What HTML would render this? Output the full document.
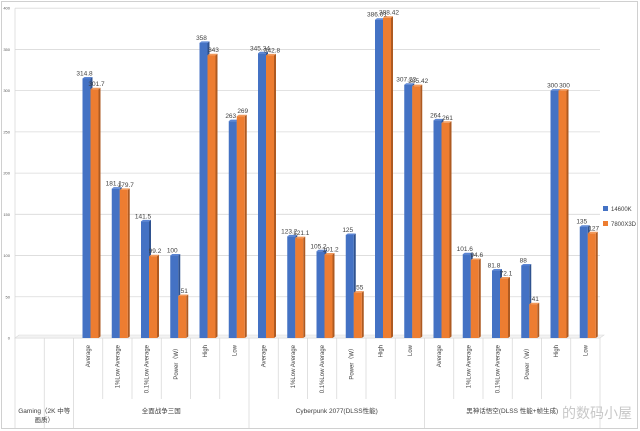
<!DOCTYPE html>
<html><head><meta charset="utf-8">
<style>
html,body{margin:0;padding:0;background:#fff;}
svg{display:block;font-family:"Liberation Sans","Noto Sans CJK SC",sans-serif;}
</style></head>
<body>
<svg id="chart" width="640" height="431" viewBox="0 0 640 431" xmlns="http://www.w3.org/2000/svg">
<rect x="1.5" y="1.5" width="636" height="427" fill="#fff" stroke="#d0d0d0"/>
<g id="grid"></g>
<g id="bars"></g>
<g id="axis"></g>
<g>
<rect x="603" y="206" width="5" height="5" fill="#4472c4"/>
<text x="611" y="211" font-size="6" fill="#404040">14600K</text>
<rect x="603" y="221" width="5" height="5" fill="#ed7d31"/>
<text x="611" y="226" font-size="6" fill="#404040">7800X3D</text>
</g>
<text x="562" y="418" font-size="14" fill="#c8c8c8">的数码小屋</text>
</svg>
<script>
const categories=["Average","1%Low Average","0.1%Low Average","Power（W）","High","Low","Average","1%Low Average","0.1%Low Average","Power（W）","High","Low","Average","1%Low Average","0.1%Low Average","Power（W）","High","Low"];
const series14600K=[314.8,181.1,141.5,100,358,263,345.34,123.2,105.2,125,386.01,307.22,264,101.6,81.8,88,300,135];
const series7800X3D=[301.7,179.7,99.2,51,343,269,342.8,121.1,101.2,55,388.42,305.42,261,94.6,72.1,41,300,127];
const labels14600K=["314.8","181.1","141.5","100","358","263","345.34","123.2","105.2","125","386.01","307.22","264","101.6","81.8","88","300","135"];
const labels7800X3D=["301.7","179.7","99.2","51","343","269","342.8","121.1","101.2","55","388.42","305.42","261","94.6","72.1","41","300","127"];
const groups=["全面战争三国","Cyberpunk 2077(DLSS性能)","黑神话悟空(DLSS 性能+帧生成)"];
const yTicks=[0,50,100,150,200,250,300,350,400];

const NS="http://www.w3.org/2000/svg";
const x0=15,colW=29.25,y0=338,k=0.8245;
const ys=v=>y0-v*k;
const colX=i=>x0+(i+2)*colW;
function mk(tag,attrs,parent,txt){const e=document.createElementNS(NS,tag);for(const a in attrs)e.setAttribute(a,attrs[a]);if(txt!==undefined)e.textContent=txt;parent.appendChild(e);return e;}
const grid=document.getElementById('grid'),bars=document.getElementById('bars'),axis=document.getElementById('axis');
yTicks.forEach(t=>{
  const l=mk('line',{x1:x0,x2:600,y1:ys(t),y2:ys(t),stroke:'#d9d9d9','stroke-width':0.8},grid);
  
  
  const tx=mk('text',{x:10,y:ys(t)+1.5,'font-size':4,fill:'#595959','text-anchor':'end'},grid,String(t));
  
  
});
mk('line',{x1:x0,x2:x0,y1:ys(400),y2:y0,stroke:'#d9d9d9','stroke-width':0.8},grid);
function bar(x,v,fill,side,top,name,label,lx){
  const y=ys(v),h=y0-y,w=8;
  const g=mk('g',{},bars);
  
  
  mk('polygon',{points:`${x+w},${y} ${x+w+2},${y-1.5} ${x+w+2},${y0-1.5} ${x+w},${y0}`,fill:side},g);
  mk('polygon',{points:`${x},${y} ${x+2},${y-1.5} ${x+w+2},${y-1.5} ${x+w},${y}`,fill:top},g);
  mk('rect',{x:x,y:y,width:w,height:h,fill:fill},g);
  const t=mk('text',{x:lx,y:y-3,'font-size':6.5,fill:'#404040','text-anchor':'middle'},g,label);
  
  
}
categories.forEach((c,i)=>{
  const cx=colX(i);
  bar(cx+9,series14600K[i],'#4472c4','#2f528f','#5b86d6','bar-14600k-'+i,labels14600K[i],cx+11);
  bar(cx+17,series7800X3D[i],'#ed7d31','#ae5a21','#f29a5c','bar-7800x3d-'+i,labels7800X3D[i],cx+23);
});
mk('polygon',{points:`${x0},${y0} ${x0+4},${y0-3} 604,${y0-3} 600,${y0}`,fill:'#f2f2f2',stroke:'#d9d9d9','stroke-width':0.6},grid);
for(let i=0;i<=20;i++){
  const x=x0+i*colW;
  const isGroupEdge=(i===0||i===1||i===2||i===8||i===14||i===20);
  mk('line',{x1:x,x2:x,y1:y0,y2:isGroupEdge?428:399,stroke:'#d9d9d9','stroke-width':0.8},axis);
}
categories.forEach((c,i)=>{
  const cx=colX(i)+colW/2+2;
  const t=mk('text',{x:0,y:0,'font-size':6,fill:'#404040','text-anchor':'end',transform:`translate(${cx},345) rotate(-90)`},axis,c);
  
  
});
groups.forEach((g,j)=>{
  const cx=colX(j*6)+colW*3;
  const t=mk('text',{x:cx,y:413,'font-size':6.5,fill:'#404040','text-anchor':'middle'},axis,g);
  
  
});
const gl=mk('text',{x:x0+colW,y:413,'font-size':6.5,fill:'#404040','text-anchor':'middle'},axis,'Gaming（2K 中等');


const gl2=mk('text',{x:x0+colW,y:422,'font-size':6.5,fill:'#404040','text-anchor':'middle'},axis,'画质）');


</script>
</body></html>
